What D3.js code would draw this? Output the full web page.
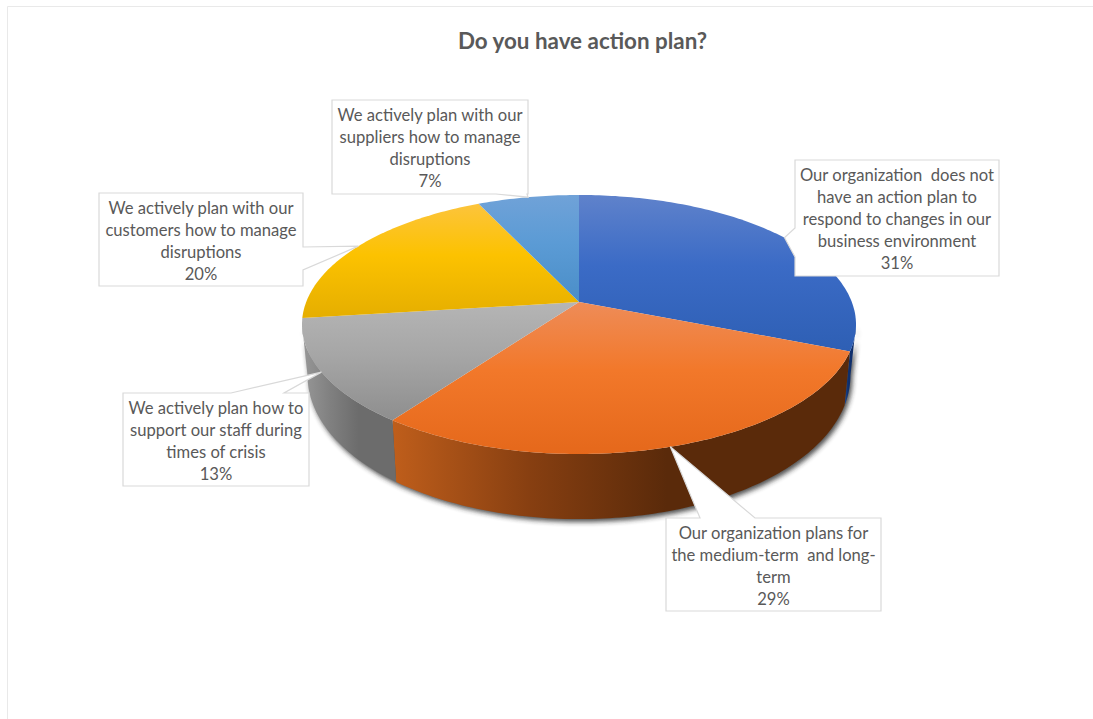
<!DOCTYPE html>
<html>
<head>
<meta charset="utf-8">
<script src="https://cdn.jsdelivr.net/npm/d3@7"></script>
<style>
  html, body { margin: 0; padding: 0; background: #fff; }
  svg { display: block; }
  text { font-family: Lato, "Open Sans", sans-serif; fill: #595959; }
</style>
</head>
<body>
<svg id="chart" width="1093" height="719"></svg>
<script>
// Survey answers, in the order they run clockwise from twelve o'clock
const chartTitle = "Do you have action plan?";
const answerLines = [
  ["Our organization  does not", "have an action plan to", "respond to changes in our", "business environment"],
  ["Our organization plans for", "the medium-term  and long-", "term"],
  ["We actively plan how to", "support our staff during", "times of crisis"],
  ["We actively plan with our", "customers how to manage", "disruptions"],
  ["We actively plan with our", "suppliers how to manage", "disruptions"]
];
const shares = [31, 29, 13, 20, 7];

// Per-slice paint: top face stops, then wall stops
const topStops = [
  ["#5f82cb", "#3b6bc6", "#2e5fb4"],
  ["#ee8c58", "#f2782a", "#e5681b"],
  ["#b5b5b5", "#a6a6a6", "#8e8e8e"],
  ["#fcc43c", "#fcc200", "#e5ae00"],
  ["#70a2d8", "#5b9bd5", "#4a8ec8"]
];
const wallStops = [
  ["#1d4a98", "#0f2f6c", "#0f2f6c"],
  ["#bf5e1b", "#873f11", "#5a2a0a"],
  ["#989898", "#808080", "#6c6c6c"],
  ["#a08000", "#a08000", "#a08000"],
  ["#3a6a98", "#3a6a98", "#3a6a98"]
];

// Callout boxes and the edge each pointer leaves from
const callouts = [
  { x: 795, y: 160, w: 204, h: 116, side: "left",   a: 228, b: 257 },
  { x: 666, y: 518, w: 215, h: 93,  side: "top",    a: 700, b: 755 },
  { x: 123, y: 393, w: 186, h: 93,  side: "top",    a: 231, b: 284 },
  { x: 99,  y: 193, w: 204, h: 93,  side: "right",  a: 247, b: 270 },
  { x: 332, y: 100, w: 196, h: 94,  side: "bottom", a: 496, b: 527 }
];

const svg = d3.select("#chart");
const defs = svg.append("defs");

// Frame of the chart area
svg.append("path")
  .attr("d", "M7.5,719V6.5H1093")
  .attr("fill", "none").attr("stroke", "#e9e9e9");

svg.append("text")
  .attr("x", 582.5).attr("y", 49)
  .attr("text-anchor", "middle")
  .style("font-size", "22.4px").style("font-weight", 700)
  .text(chartTitle);

// Perspective projection of the disc: far edge is compressed, near edge is stretched
const cx = 579, cy = 302, A = 272.8, B = 125.6, k = 0.1737;
const project = a => {
  const u = Math.sin(a), v = Math.cos(a), w = 1 + k * v;
  return [cx + A * u / w, cy - B * v / w];
};
// Matching point on the underside of the disc
const projectLow = a => {
  const [x, y] = project(a);
  return [cx + (x - cx) * 0.98, y + 47.6 - 17.5 * Math.cos(a)];
};

const arcs = d3.pie().value(d => d).sort(null)(shares);
const STEP = Math.PI / 180;
const sweep = (a0, a1) => d3.range(a0, a1, STEP).concat([a1]);
const line = d3.line();

// The rim faces the viewer only between these two angles
const frontFrom = Math.acos(-k), frontTo = 2 * Math.PI - frontFrom;

function fillGradient(id, stops, vertical) {
  const g = defs.append("linearGradient").attr("id", id)
    .attr("x1", 0).attr("y1", 0)
    .attr("x2", vertical ? 0 : 1).attr("y2", vertical ? 1 : 0);
  const offsets = vertical ? [0, 0.45, 1] : [0, 0.3, 0.6];
  stops.forEach((c, i) => g.append("stop").attr("offset", offsets[i]).attr("stop-color", c));
}

// Soft shadow under the disc
const blur = defs.append("filter").attr("id", "soft")
  .attr("x", "-10%").attr("y", "-10%").attr("width", "120%").attr("height", "120%");
blur.append("feGaussianBlur").attr("stdDeviation", 2.8);
svg.append("path")
  .attr("d", line(sweep(frontFrom, frontTo).map(projectLow).concat(sweep(frontFrom, frontTo).reverse().map(project))) + "Z")
  .attr("transform", "translate(2,3)")
  .attr("fill", "#262626").attr("opacity", 0.8)
  .attr("filter", "url(#soft)");

// Side walls, limited to the part of each slice that faces the viewer
const visibleArcs = arcs
  .map((d, i) => ({ i, a0: Math.max(d.startAngle, frontFrom), a1: Math.min(d.endAngle, frontTo) }))
  .filter(d => d.a1 > d.a0);
svg.append("g").selectAll("path").data(visibleArcs).join("path")
  .each(d => fillGradient("wall" + d.i, wallStops[d.i], false))
  .attr("d", d => {
    const angles = sweep(d.a0, d.a1);
    return line(angles.map(project).concat(angles.slice().reverse().map(projectLow))) + "Z";
  })
  .attr("fill", d => `url(#wall${d.i})`);

svg.append("g").selectAll("path").data(arcs).join("path")
  .each((d, i) => fillGradient("face" + i, topStops[i], true))
  .attr("d", d => line([[cx, cy]].concat(sweep(d.startAngle, d.endAngle).map(project))) + "Z")
  .attr("fill", (d, i) => `url(#face${i})`);

// Callout outline: the box with a pointer wedge let into one edge
function calloutPath(c, tip) {
  const r = c.x + c.w, b = c.y + c.h, t = `${tip[0]},${tip[1]}`;
  const top = c.side === "top" ? `L${c.a},${c.y}L${t}L${c.b},${c.y}` : "";
  const right = c.side === "right" ? `L${r},${c.a}L${t}L${r},${c.b}` : "";
  const bottom = c.side === "bottom" ? `L${c.b},${b}L${t}L${c.a},${b}` : "";
  const left = c.side === "left" ? `L${c.x},${c.b}L${t}L${c.x},${c.a}` : "";
  return `M${c.x},${c.y}${top}L${r},${c.y}${right}L${r},${b}${bottom}L${c.x},${b}${left}Z`;
}

const LINE_GAP = 22;
const groups = svg.append("g").selectAll("g").data(arcs).join("g");
groups.append("path")
  .attr("d", (d, i) => calloutPath(callouts[i], project((d.startAngle + d.endAngle) / 2)))
  .attr("fill", "#fff").attr("stroke", "#d9d9d9").attr("stroke-width", 1.2);
groups.each(function (d, i) {
  const c = callouts[i];
  const rows = answerLines[i].concat([d.value + "%"]);
  const top = c.y + c.h / 2 - (rows.length - 1) * LINE_GAP / 2;
  d3.select(this).selectAll("text").data(rows).join("text")
    .attr("x", c.x + c.w / 2)
    .attr("y", (r, j) => top + j * LINE_GAP + 7)
    .attr("text-anchor", "middle")
    .style("font-size", "16.6px")
    .style("white-space", "pre")
    .text(r => r);
});
</script>
</body>
</html>
